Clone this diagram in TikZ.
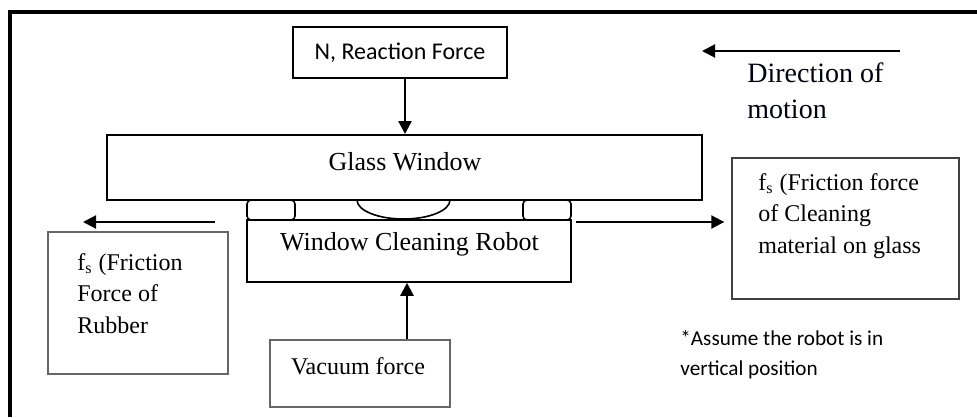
\documentclass[tikz,border=0pt]{standalone}
\usepackage{fontspec}
\setmainfont{Liberation Serif}
\newfontfamily\calibri{Carlito}
\usepackage{tikz}
\usetikzlibrary{positioning, arrows.meta}

\tikzset{
    box/.style={draw, line width=0.8pt, inner sep=0pt},
    greybox/.style={draw=black!60, line width=0.7pt, inner sep=0pt},
    force/.style={-{Triangle[length=6.5pt,width=6.5pt]}, line width=1pt},
    label12/.style={inner sep=0pt, align=left, font=\fontsize{12}{15.75}\selectfont},
}

\begin{document}
\begin{tikzpicture}[x=0.5pt, y=-0.5pt]
        \useasboundingbox (0,0) rectangle (977,417);
        \draw[line width=2pt] (10,417) -- (10,12) -- (977,12);

        % boxes
        \node[box, minimum width=107pt, minimum height=25.5pt] (nbox) at (400,52.5) {};
        \node[box, line width=1pt, minimum width=297.5pt, minimum height=32.5pt] (glass) at (404.5,167.5) {};
        \node[box, minimum width=162pt, minimum height=31pt] (robot) at (409,251) {};
        \node[greybox, minimum width=90pt, minimum height=33.5pt] (vacuum) at (360,373.5) {};
        \node[greybox, minimum width=90pt, minimum height=71pt] (rubber) at (138,303) {};
        \node[greybox, draw=black!75, minimum width=113.5pt, minimum height=70.5pt] (clean) at (845.5,228.5) {};

        % pads and suction cup
        \draw[line width=0.8pt, rounded corners=2pt] (247,200) rectangle (295,220);
        \draw[line width=0.8pt, rounded corners=2pt] (523,200) rectangle (571,220);
        \draw[line width=0.8pt] (357,200) arc[start angle=180, end angle=0, x radius=46.5, y radius=19];

        % texts (base = last line)
        \node[inner sep=0pt, anchor=base, font=\calibri\fontsize{12}{14}\selectfont] (ntext) at (400,60) {N, Reaction Force};
        \node[inner sep=0pt, anchor=base, font=\fontsize{13}{16}\selectfont] (glasstext) at (405,170) {Glass Window};
        \node[inner sep=0pt, anchor=base, font=\fontsize{13}{16}\selectfont] (robottext) at (409.5,250) {Window Cleaning Robot};
        \node[inner sep=0pt, anchor=base, font=\fontsize{12}{15}\selectfont] (vactext) at (358,374) {Vacuum force};
        \node[label12, anchor=base west] (rubbertext) at (77,333) {f\textsubscript{s} (Friction\\Force of\\Rubber};
        \node[label12, anchor=base west] (cleantext) at (758,253) {f\textsubscript{s} (Friction force\\of Cleaning\\material on glass};
        \node[inner sep=0pt, anchor=base west, align=left, text=black!94!blue, font=\fontsize{14}{18}\selectfont] (dirtext) at (747,119) {Direction of\\motion};
        \node[inner sep=0pt, anchor=base west, align=left, font=\calibri\fontsize{10.6}{15}\selectfont] (note) at (680,375) {*Assume the robot is in\\vertical position};

        % forces
        \coordinate (nx) at (405,0);
        \coordinate (vx) at (407,0);
        \draw[force, line width=1.2pt] (nbox.south -| nx) -- (glass.north -| nx);
        \draw[force, line width=1.2pt] (vacuum.north -| vx) -- (robot.south -| vx);

        \coordinate (rub-start) at (215,222);
        \coordinate (rub-end) at (83,222);
        \draw[force] (rub-start) -- (rub-end);

        \coordinate (cln-start) at (576,222);
        \draw[force] (cln-start) -- ([xshift=-3.5pt]clean.west |- cln-start);

        \coordinate (dir-start) at (900,51);
        \coordinate (dir-end) at (702,51);
        \draw[force] (dir-start) -- (dir-end);

    \end{tikzpicture}
\end{document}
